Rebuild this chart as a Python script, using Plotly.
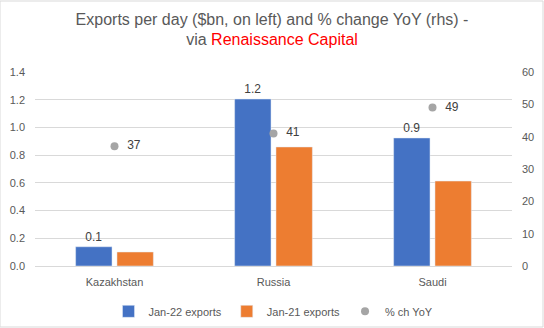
import plotly.graph_objects as go

categories = ["Kazakhstan", "Russia", "Saudi"]
jan22 = [0.139, 1.205, 0.924]
jan21 = [0.101, 0.859, 0.613]
yoy = [37, 41, 49]
jan22_labels = ["0.1", "1.2", "0.9"]
left_ticks = [0.0, 0.2, 0.4, 0.6, 0.8, 1.0, 1.2, 1.4]
right_ticks = [0, 10, 20, 30, 40, 50, 60]

FONT = "Liberation Sans, Arial"
GREY = "#595959"

fig = go.Figure()
fig.add_trace(go.Bar(x=categories, y=jan22, name="Jan-22 exports", marker_color="#4472C4",
                     text=jan22_labels, textposition="outside", cliponaxis=False,
                     textfont=dict(color="#404040", size=12, family=FONT)))
fig.add_trace(go.Bar(x=categories, y=jan21, name="Jan-21 exports", marker_color="#ED7D31"))
fig.add_trace(go.Scatter(x=categories, y=yoy, name="% ch YoY", yaxis="y2", mode="markers+text",
                         marker=dict(color="#A5A5A5", size=8),
                         text=["  " + str(v) for v in yoy], textposition="middle right",
                         textfont=dict(color="#404040", size=12, family=FONT), cliponaxis=False))

fig.update_layout(
    width=544, height=328,
    margin=dict(l=35, r=32, t=72, b=62, autoexpand=False),
    paper_bgcolor="white", plot_bgcolor="white",
    barmode="group", bargap=0.48, bargroupgap=0.12,
    font=dict(family=FONT, color=GREY, size=11),
    title=dict(text="Exports per day ($bn, on left) and % change YoY (rhs) -<br>via <span style='color:#FF0000'>Renaissance Capital</span>",
               x=0.5, xanchor="center", y=0.925, yanchor="top",
               font=dict(size=16, color=GREY, family=FONT)),
    xaxis=dict(showgrid=False, showline=True, linecolor="#D9D9D9", ticks="",
               ticklabelstandoff=6, tickfont=dict(size=11, color=GREY)),
    yaxis=dict(range=[0, 1.4], tickvals=left_ticks, tickformat=".1f", showgrid=True,
               gridcolor="#D9D9D9", zeroline=False, ticks="", ticklabelstandoff=9,
               tickfont=dict(size=11, color=GREY)),
    yaxis2=dict(range=[0, 60], tickvals=right_ticks, overlaying="y", side="right", showgrid=False,
                zeroline=False, ticks="", ticklabelstandoff=9, tickfont=dict(size=11, color=GREY)),
    legend=dict(orientation="h", x=0.5, xanchor="center", yref="container", y=0.095, yanchor="top",
                font=dict(size=11, color=GREY), traceorder="normal", itemwidth=30),
    showlegend=True,
)
fig.update_layout(shapes=[dict(type="rect", xref="paper", yref="paper",
                               x0=-35/477, x1=1+31/477, y0=-61/194, y1=1+71/194,
                               line=dict(color="#D9D9D9", width=1))])
fig.write_html("out.html")
